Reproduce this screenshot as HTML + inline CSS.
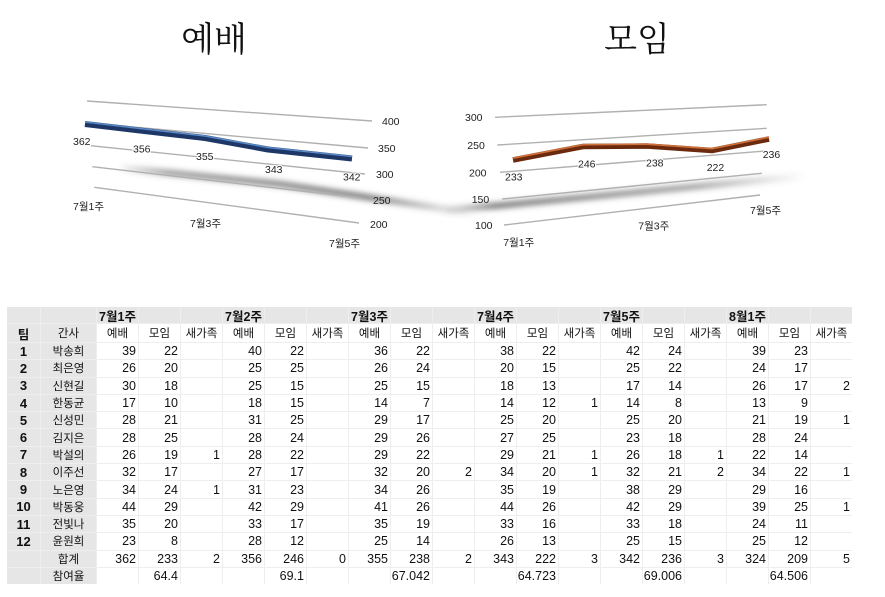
<!DOCTYPE html>
<html><head><meta charset="utf-8">
<style>
html,body{margin:0;padding:0;background:#fff;}
body{width:885px;height:597px;position:relative;overflow:hidden;}
svg{position:absolute;left:0;top:0;}
#t{position:absolute;left:7px;top:307px;display:grid;grid-template-columns:33px 55px repeat(18,41px);grid-template-rows:16px 18px repeat(14,16.3px);gap:1px;background:#eeeeee;font:12.5px "Liberation Sans","Noto Sans CJK KR",sans-serif;color:#111;}
#t i{font-style:normal;background:#fff;display:flex;align-items:center;justify-content:flex-end;padding-right:2px;white-space:nowrap;overflow:hidden;}
#t i.g{background:#e6e6e6;justify-content:center;padding:0;}
#t i.c{justify-content:center;padding:0;}
#t i.b{font-weight:bold;}
#t i.k{font-size:11.5px;}
#t i.n{font-size:13px;}
</style></head><body>
<svg width="885" height="300" viewBox="0 0 885 300" xmlns="http://www.w3.org/2000/svg">
<defs>
<filter id="bl" x="-20%" y="-300%" width="140%" height="700%"><feGaussianBlur stdDeviation="3"/></filter>
<linearGradient id="sg1" gradientUnits="userSpaceOnUse" x1="115" y1="0" x2="475" y2="0">
<stop offset="0" stop-color="#555" stop-opacity="0"/><stop offset="0.15" stop-color="#555" stop-opacity="0.6"/><stop offset="0.7" stop-color="#555" stop-opacity="0.8"/><stop offset="1" stop-color="#555" stop-opacity="0"/></linearGradient>
<linearGradient id="sg2" gradientUnits="userSpaceOnUse" x1="440" y1="0" x2="805" y2="0">
<stop offset="0" stop-color="#555" stop-opacity="0"/><stop offset="0.15" stop-color="#555" stop-opacity="0.8"/><stop offset="0.7" stop-color="#555" stop-opacity="0.55"/><stop offset="1" stop-color="#555" stop-opacity="0"/></linearGradient>
</defs>
<g font-family="'Noto Serif CJK SC','Noto Serif CJK KR',serif" font-size="34" fill="#111" text-anchor="middle">
<text x="214" y="51">예배</text>
<text x="637" y="51">모임</text>
</g>
<!-- left chart -->
<path d="M122,168 L280,184 L472,213" stroke="url(#sg1)" stroke-width="6" fill="none" filter="url(#bl)"/>
<g stroke="#b0b0b0" stroke-width="1.4" fill="none">
<line x1="87" y1="101" x2="372" y2="121"/>
<line x1="88.5" y1="123" x2="368" y2="148"/>
<line x1="90.7" y1="145.7" x2="365" y2="174"/>
<line x1="92.3" y1="166.7" x2="361.7" y2="198"/>
<line x1="94.3" y1="187.3" x2="359" y2="223"/>
</g>
<path d="M85,124 L140,130.5 L205,138 L268,149.5 L352,158.5" stroke="#1e3766" stroke-width="6" fill="none" stroke-linejoin="round"/>
<path d="M85,124 L140,130.5 L205,138 L268,149.5 L352,158.5" stroke="#5a8ac8" stroke-width="1.5" fill="none" stroke-linejoin="round" transform="translate(0,-2)"/>
<g font-family="'Liberation Sans',sans-serif" font-size="10.5" fill="#222">
<text x="382" y="125">400</text>
<text x="378" y="152">350</text>
<text x="376" y="178">300</text>
<text x="373" y="204">250</text>
<text x="370" y="228">200</text>
</g>
<g font-family="'Liberation Sans',sans-serif" font-size="10.5" fill="#222" stroke="#fff" stroke-width="2" paint-order="stroke">
<text x="73" y="145">362</text>
<text x="133" y="152.7">356</text>
<text x="196" y="160">355</text>
<text x="265" y="173">343</text>
<text x="343" y="180.7">342</text>
</g>
<g font-family="'Liberation Sans','Noto Sans CJK KR',sans-serif" font-size="10.5" fill="#222">
<text x="73" y="210">7월1주</text>
<text x="190" y="227">7월3주</text>
<text x="329" y="247">7월5주</text>
</g>
<!-- right chart -->
<path d="M445,210 L505,205 L650,191 L805,176" stroke="url(#sg2)" stroke-width="6" fill="none" filter="url(#bl)"/>
<g stroke="#b0b0b0" stroke-width="1.4" fill="none">
<line x1="495" y1="117.3" x2="766.7" y2="104.7"/>
<line x1="497.3" y1="145" x2="766.7" y2="128.3"/>
<line x1="500" y1="172.3" x2="765" y2="151"/>
<line x1="502.3" y1="199" x2="761.7" y2="173.3"/>
<line x1="504" y1="225" x2="760" y2="195"/>
</g>
<path d="M513,160 L583,146.5 L647,146 L712,150.5 L769,139" stroke="#6b2a0d" stroke-width="5.5" fill="none" stroke-linejoin="round"/>
<path d="M513,160 L583,146.5 L647,146 L712,150.5 L769,139" stroke="#d0703a" stroke-width="1.6" fill="none" stroke-linejoin="round" transform="translate(0,-1.8)"/>
<g font-family="'Liberation Sans',sans-serif" font-size="10.5" fill="#222">
<text x="465" y="121">300</text>
<text x="467.3" y="149">250</text>
<text x="469" y="176.7">200</text>
<text x="471.7" y="203">150</text>
<text x="475" y="229">100</text>
</g>
<g font-family="'Liberation Sans',sans-serif" font-size="10.5" fill="#222" stroke="#fff" stroke-width="2" paint-order="stroke">
<text x="505" y="180.7">233</text>
<text x="578" y="167.7">246</text>
<text x="646" y="166.7">238</text>
<text x="706.7" y="171">222</text>
<text x="762.7" y="158">236</text>
</g>
<g font-family="'Liberation Sans','Noto Sans CJK KR',sans-serif" font-size="10.5" fill="#222">
<text x="503.3" y="246">7월1주</text>
<text x="638.3" y="229.5">7월3주</text>
<text x="750" y="214">7월5주</text>
</g>
</svg>

<div id="t">
<i class="g"></i><i class="g"></i><i class="g b">7월1주</i><i class="g"></i><i class="g"></i><i class="g b">7월2주</i><i class="g"></i><i class="g"></i><i class="g b">7월3주</i><i class="g"></i><i class="g"></i><i class="g b">7월4주</i><i class="g"></i><i class="g"></i><i class="g b">7월5주</i><i class="g"></i><i class="g"></i><i class="g b">8월1주</i><i class="g"></i><i class="g"></i>
<i class="g b">팀</i><i class="g k">간사</i><i class="c k">예배</i><i class="c k">모임</i><i class="c k">새가족</i><i class="c k">예배</i><i class="c k">모임</i><i class="c k">새가족</i><i class="c k">예배</i><i class="c k">모임</i><i class="c k">새가족</i><i class="c k">예배</i><i class="c k">모임</i><i class="c k">새가족</i><i class="c k">예배</i><i class="c k">모임</i><i class="c k">새가족</i><i class="c k">예배</i><i class="c k">모임</i><i class="c k">새가족</i>
<i class="g b n">1</i><i class="g k">박송희</i><i>39</i><i>22</i><i></i><i>40</i><i>22</i><i></i><i>36</i><i>22</i><i></i><i>38</i><i>22</i><i></i><i>42</i><i>24</i><i></i><i>39</i><i>23</i><i></i>
<i class="g b n">2</i><i class="g k">최은영</i><i>26</i><i>20</i><i></i><i>25</i><i>25</i><i></i><i>26</i><i>24</i><i></i><i>20</i><i>15</i><i></i><i>25</i><i>22</i><i></i><i>24</i><i>17</i><i></i>
<i class="g b n">3</i><i class="g k">신현길</i><i>30</i><i>18</i><i></i><i>25</i><i>15</i><i></i><i>25</i><i>15</i><i></i><i>18</i><i>13</i><i></i><i>17</i><i>14</i><i></i><i>26</i><i>17</i><i>2</i>
<i class="g b n">4</i><i class="g k">한동균</i><i>17</i><i>10</i><i></i><i>18</i><i>15</i><i></i><i>14</i><i>7</i><i></i><i>14</i><i>12</i><i>1</i><i>14</i><i>8</i><i></i><i>13</i><i>9</i><i></i>
<i class="g b n">5</i><i class="g k">신성민</i><i>28</i><i>21</i><i></i><i>31</i><i>25</i><i></i><i>29</i><i>17</i><i></i><i>25</i><i>20</i><i></i><i>25</i><i>20</i><i></i><i>21</i><i>19</i><i>1</i>
<i class="g b n">6</i><i class="g k">김지은</i><i>28</i><i>25</i><i></i><i>28</i><i>24</i><i></i><i>29</i><i>26</i><i></i><i>27</i><i>25</i><i></i><i>23</i><i>18</i><i></i><i>28</i><i>24</i><i></i>
<i class="g b n">7</i><i class="g k">박설의</i><i>26</i><i>19</i><i>1</i><i>28</i><i>22</i><i></i><i>29</i><i>22</i><i></i><i>29</i><i>21</i><i>1</i><i>26</i><i>18</i><i>1</i><i>22</i><i>14</i><i></i>
<i class="g b n">8</i><i class="g k">이주선</i><i>32</i><i>17</i><i></i><i>27</i><i>17</i><i></i><i>32</i><i>20</i><i>2</i><i>34</i><i>20</i><i>1</i><i>32</i><i>21</i><i>2</i><i>34</i><i>22</i><i>1</i>
<i class="g b n">9</i><i class="g k">노은영</i><i>34</i><i>24</i><i>1</i><i>31</i><i>23</i><i></i><i>34</i><i>26</i><i></i><i>35</i><i>19</i><i></i><i>38</i><i>29</i><i></i><i>29</i><i>16</i><i></i>
<i class="g b n">10</i><i class="g k">박동웅</i><i>44</i><i>29</i><i></i><i>42</i><i>29</i><i></i><i>41</i><i>26</i><i></i><i>44</i><i>26</i><i></i><i>42</i><i>29</i><i></i><i>39</i><i>25</i><i>1</i>
<i class="g b n">11</i><i class="g k">전빛나</i><i>35</i><i>20</i><i></i><i>33</i><i>17</i><i></i><i>35</i><i>19</i><i></i><i>33</i><i>16</i><i></i><i>33</i><i>18</i><i></i><i>24</i><i>11</i><i></i>
<i class="g b n">12</i><i class="g k">윤원희</i><i>23</i><i>8</i><i></i><i>28</i><i>12</i><i></i><i>25</i><i>14</i><i></i><i>26</i><i>13</i><i></i><i>25</i><i>15</i><i></i><i>25</i><i>12</i><i></i>
<i class="g"></i><i class="g k">합계</i><i>362</i><i>233</i><i>2</i><i>356</i><i>246</i><i>0</i><i>355</i><i>238</i><i>2</i><i>343</i><i>222</i><i>3</i><i>342</i><i>236</i><i>3</i><i>324</i><i>209</i><i>5</i>
<i class="g"></i><i class="g k">참여율</i><i></i><i>64.4</i><i></i><i></i><i>69.1</i><i></i><i></i><i>67.042</i><i></i><i></i><i>64.723</i><i></i><i></i><i>69.006</i><i></i><i></i><i>64.506</i><i></i>
</div>
</body></html>
